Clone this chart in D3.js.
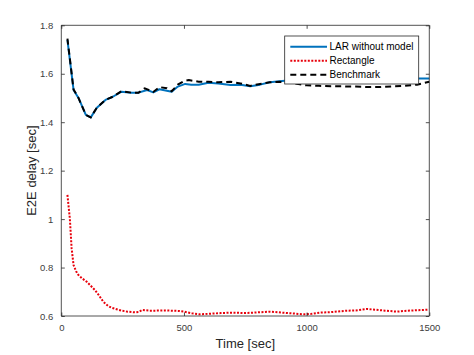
<!DOCTYPE html>
<html><head><meta charset="utf-8">
<script src="https://cdn.jsdelivr.net/npm/d3@7"></script>
<style>body{margin:0;background:#fff}svg{display:block}text{font-family:"Liberation Sans",Arial,sans-serif}</style>
</head><body><svg id="c" width="474" height="355"></svg>
<script>
const larT = [25,50,70,100,120,145,180,210,245,285,315,350,375,400,450,475,505,530,560,600,640,690,730,770,810,850,900,950,1000,1050,1100,1150,1200,1250,1300,1350,1400,1450,1500];
const larV = [1.74,1.533,1.50,1.43,1.42,1.46,1.492,1.505,1.526,1.522,1.522,1.533,1.523,1.536,1.526,1.547,1.558,1.555,1.555,1.563,1.56,1.554,1.555,1.548,1.555,1.565,1.57,1.574,1.575,1.575,1.575,1.576,1.578,1.578,1.577,1.578,1.58,1.58,1.58];
const benchT = [25,50,70,100,120,145,180,210,245,285,315,340,375,400,430,450,475,500,520,560,600,640,690,730,770,810,850,890,950,1000,1050,1100,1150,1200,1250,1300,1350,1400,1450,1500];
const benchV = [1.745,1.535,1.50,1.43,1.42,1.46,1.492,1.505,1.528,1.522,1.522,1.54,1.525,1.545,1.54,1.528,1.555,1.57,1.574,1.567,1.567,1.565,1.567,1.56,1.55,1.558,1.565,1.567,1.56,1.552,1.55,1.548,1.548,1.547,1.545,1.545,1.548,1.55,1.555,1.567];
const rectT = [25,30,35,42,50,60,70,85,103,120,137,155,171,190,205,225,246,270,300,315,330,360,382,420,477,500,532,565,600,650,700,750,800,850,900,950,988,1020,1055,1100,1165,1200,1246,1280,1320,1368,1400,1450,1498];
const rectV = [1.10,1.05,1.00,0.88,0.81,0.785,0.769,0.755,0.742,0.725,0.707,0.683,0.659,0.642,0.634,0.628,0.622,0.618,0.615,0.617,0.625,0.622,0.622,0.623,0.621,0.618,0.611,0.607,0.609,0.612,0.614,0.612,0.615,0.618,0.614,0.61,0.607,0.609,0.614,0.616,0.622,0.623,0.629,0.626,0.622,0.618,0.621,0.624,0.626];
const xTicks = [0,500,1000,1500];
const yTicks = [0.6,0.8,1,1.2,1.4,1.6,1.8];
const legendLabels = ["LAR without model","Rectangle","Benchmark"];

const svg = d3.select("#c");
const L=61.3, R=429.3, T=25.3, B=316;
const x = d3.scaleLinear().domain([0,1500]).range([L,R]);
const y = d3.scaleLinear().domain([0.6,1.8]).range([B,T]);
const axisCol = "#262626";

svg.append("rect").attr("x",L).attr("y",T).attr("width",R-L).attr("height",B-T).attr("fill","#fff");

const line = d3.line().x(d=>x(d[0])).y(d=>y(d[1]));
const zip = (a,b)=>a.map((t,i)=>[t,b[i]]);
const g = svg.append("g");
g.append("path").attr("d",line(zip(rectT,rectV))).attr("fill","none").attr("stroke","#e8000b").attr("stroke-width",2).attr("stroke-dasharray","2,1.5");
g.append("path").attr("d",line(zip(larT,larV))).attr("fill","none").attr("stroke","#0072BD").attr("stroke-width",2).attr("stroke-linejoin","round");
g.append("path").attr("d",line(zip(benchT,benchV))).attr("fill","none").attr("stroke","#000").attr("stroke-width",2).attr("stroke-dasharray","6,4");

// axes
const xa = svg.append("g").attr("transform",`translate(0,${B})`).call(d3.axisBottom(x).tickValues(xTicks).tickSize(-3.5).tickPadding(8).tickFormat(d3.format("d")));
const ya = svg.append("g").attr("transform",`translate(${L},0)`).call(d3.axisLeft(y).tickValues(yTicks).tickSize(-3.5).tickPadding(8).tickFormat(d=>d===1?"1":d3.format(".1f")(d)));
const xt = svg.append("g").attr("transform",`translate(0,${T})`).call(d3.axisTop(x).tickValues(xTicks).tickSize(-3.5).tickFormat(""));
const yr = svg.append("g").attr("transform",`translate(${R},0)`).call(d3.axisRight(y).tickValues(yTicks).tickSize(-3.5).tickFormat(""));
[xa,ya,xt,yr].forEach(a=>{
  a.select(".domain").attr("stroke",axisCol).attr("stroke-width",0.8);
  a.selectAll(".tick line").attr("stroke",axisCol).attr("stroke-width",0.8);
  a.selectAll(".tick text").attr("fill","#404040").style("font-size","9.5px").style("font-family","'Liberation Sans',Arial,sans-serif");
});
ya.selectAll(".domain").attr("d",`M0,${B}V${T}`);
xa.selectAll(".domain").attr("d",`M${L},0H${R}`);
xt.selectAll(".domain").attr("d",`M${L},0H${R}`);
yr.selectAll(".domain").attr("d",`M0,${B}V${T}`);

svg.append("text").attr("x",(L+R)/2).attr("y",348).attr("text-anchor","middle").attr("fill","#262626").style("font-size","13px").text("Time [sec]");
svg.append("text").attr("transform",`translate(36,${(T+B)/2}) rotate(-90)`).attr("text-anchor","middle").attr("fill","#262626").style("font-size","13px").text("E2E delay [sec]");

// legend
const lg = svg.append("g");
lg.append("rect").attr("x",284.7).attr("y",36).attr("width",134).attr("height",48).attr("fill","#fff").attr("stroke",axisCol).attr("stroke-width",0.8);
const styles = [{c:"#0072BD",d:null},{c:"#e8000b",d:"2,1.5"},{c:"#000",d:"6,4"}];
legendLabels.forEach((lab,i)=>{
  const yy = 46.7 + i*14;
  const l = lg.append("line").attr("x1",290.3).attr("x2",327).attr("y1",yy).attr("y2",yy).attr("stroke",styles[i].c).attr("stroke-width",2);
  if(styles[i].d) l.attr("stroke-dasharray",styles[i].d);
  lg.append("text").attr("x",329.5).attr("y",yy+3.5).attr("fill","#000").style("font-size","10px").text(lab);
});
</script></body></html>
